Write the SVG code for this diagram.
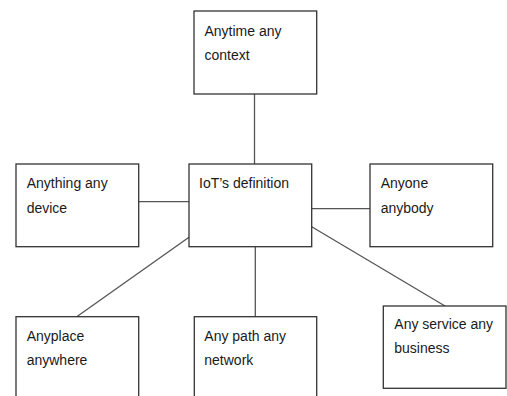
<svg xmlns="http://www.w3.org/2000/svg" width="507" height="396" viewBox="0 0 507 396">
<style>
.box{fill:#fff;stroke:#333;stroke-width:1.3}
.t{font-family:"Liberation Sans",Arial,sans-serif;font-size:14px;fill:#1a1a1a}
.c{stroke:#555;stroke-width:1.3;fill:none}
</style>
<rect width="507" height="396" fill="#fff"/>
<g id="connectors">
<line class="c" x1="254.5" y1="94" x2="254.5" y2="164"/>
<line class="c" x1="138.7" y1="201.7" x2="189" y2="201.7"/>
<line class="c" x1="311.7" y1="208.7" x2="370" y2="208.7"/>
<line class="c" x1="189" y1="237.3" x2="76.7" y2="316.7"/>
<line class="c" x1="255.3" y1="246.7" x2="255.3" y2="316.7"/>
<line class="c" x1="311.7" y1="226.7" x2="445" y2="306"/>
</g>
<g id="anytime">
<rect class="box" x="194" y="11" width="122.7" height="83"/>
<text class="t" x="204.5" y="36">Anytime any</text>
<text class="t" x="204.5" y="60">context</text>
</g>
<g id="anything">
<rect class="box" x="16" y="164" width="122.7" height="82.7"/>
<text class="t" x="26.7" y="188.3">Anything any</text>
<text class="t" x="26.7" y="212.5">device</text>
</g>
<g id="iot">
<rect class="box" x="189" y="164" width="122.7" height="82.7"/>
<text class="t" x="199" y="188.3">IoT’s definition</text>
</g>
<g id="anyone">
<rect class="box" x="370" y="164" width="122.7" height="82.7"/>
<text class="t" x="380.7" y="188.3">Anyone</text>
<text class="t" x="380.7" y="212.5">anybody</text>
</g>
<g id="anyplace">
<rect class="box" x="16" y="316.7" width="122.7" height="90"/>
<text class="t" x="26.7" y="340.7">Anyplace</text>
<text class="t" x="26.7" y="365">anywhere</text>
</g>
<g id="anypath">
<rect class="box" x="194.3" y="316.7" width="122.4" height="90"/>
<text class="t" x="204.3" y="340.7">Any path any</text>
<text class="t" x="204.3" y="365">network</text>
</g>
<g id="anyservice">
<rect class="box" x="383.3" y="306" width="122.7" height="82.3"/>
<text class="t" x="394.3" y="329.3">Any service any</text>
<text class="t" x="394.3" y="353.3">business</text>
</g>
</svg>
